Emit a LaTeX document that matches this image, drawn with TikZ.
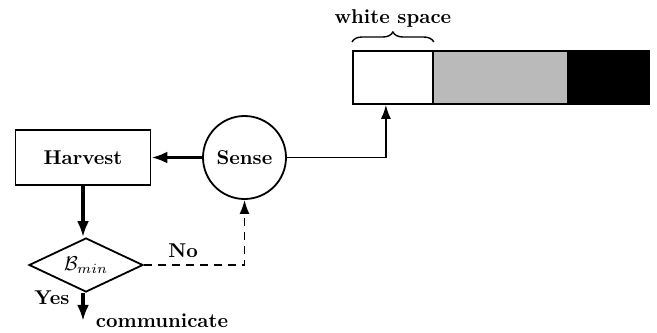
\documentclass[tikz,border=0pt]{standalone}
\usetikzlibrary{shapes.geometric,arrows.meta,decorations.pathreplacing}
\begin{document}
\begin{tikzpicture}[x=0.5pt,y=-0.5pt,
  font=\bfseries,
  boxline/.style={draw,line width=0.9pt},
  flow/.style={line width=1.6pt,-{Latex[length=8pt,width=6pt]}},
  link/.style={line width=0.9pt,-{Latex[length=7pt,width=5pt]}},
  cell/.style={draw,line width=0.9pt,minimum height=26.5pt,inner sep=0pt,anchor=north west}]
\useasboundingbox (0,0) rectangle (657,332);

% storage bar
\node[cell,fill=white,minimum width=40pt] (w) at (352,50) {};
\node[cell,fill=black!27,minimum width=67.5pt] (g) at (432,50) {};
\node[cell,fill=black,minimum width=40.5pt] (b) at (567,50) {};
\draw[decorate,decoration={brace,amplitude=5pt},line width=0.7pt]
  ([yshift=4pt]w.north west) -- ([yshift=4pt]w.north east) node[midway,above=3.5pt] (ws) {white space};
\coordinate (in) at ([xshift=-3.5pt]w.south);

% flow
\node[boxline,minimum width=67.5pt,minimum height=27.5pt] (h) at (83,157.5) {Harvest};
\node[boxline,circle,minimum size=41.5pt,inner sep=0pt] (s) at (244.5,157.5) {Sense};
\node[boxline,diamond,aspect=2.2,minimum width=57pt,minimum height=27pt,inner sep=0pt] (d) at (86,265) {\normalfont$\mathcal{B}_{min}$};

\draw[flow] (s.west) -- (s.west -| h.east);
\draw[flow] (h.south) -- (h.south |- d.north);
\draw[flow] (h.south |- d.south) -- ++(0,28) coordinate (out);
\draw[link] (s.east) -| (in);
\draw[link,dashed,dash pattern=on 4pt off 3pt] (d.east) -| (s.south);

\node (no) at (183,251) {No};
\node (yes) at (52,298) {Yes};
\node (comm) at (162,321) {communicate};
\end{tikzpicture}
\end{document}
